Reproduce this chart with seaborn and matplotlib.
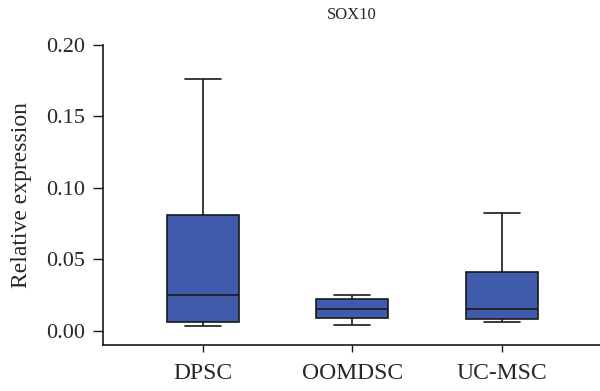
import numpy as np
import pandas as pd
import matplotlib
matplotlib.use('Agg')
import matplotlib.pyplot as plt
import seaborn as sns

# five-number summaries (min, q1, median, q3, max)
groups = ['DPSC', 'OOMDSC', 'UC-MSC']
dpsc = [0.003, 0.006, 0.025, 0.081, 0.176]
oomdsc = [0.004, 0.009, 0.015, 0.022, 0.025]
ucmsc = [0.006, 0.008, 0.015, 0.041, 0.082]
yticks = [0.00, 0.05, 0.10, 0.15, 0.20]

df = pd.DataFrame({
    'group': np.repeat(groups, 5),
    'value': dpsc + oomdsc + ucmsc,
})

sns.set_style('ticks')
plt.rcParams['font.family'] = ['Liberation Serif', 'DejaVu Serif']

fig = plt.figure(figsize=(6, 3.91), dpi=100)
ax = fig.add_axes([0.172, 0.118, 0.828, 0.767])

sns.boxplot(data=df, x='group', y='value', order=groups, whis=(0, 100),
            width=0.48, color='#3f5ba9', saturation=1, linecolor='#1a1a1a',
            linewidth=1.2, showfliers=False, ax=ax)

ax.set_xlim(-0.667, 2.657)
ax.set_ylim(-0.01, 0.20)
ax.set_yticks(yticks)
ax.set_yticklabels(['{:.2f}'.format(t) for t in yticks])
ax.set_xlabel('')
ax.set_ylabel('Relative expression', fontsize=17, labelpad=10)
ax.set_title('SOX10', fontsize=12, pad=19)
ax.tick_params(axis='y', labelsize=16, length=7, width=1, color='#1a1a1a', pad=6)
ax.tick_params(axis='x', labelsize=17, length=5, width=1, color='#1a1a1a', pad=8)
sns.despine(ax=ax)
ax.spines['left'].set_bounds(-0.01, 0.20)
for s in ['left', 'bottom']:
    ax.spines[s].set_linewidth(1.2)
    ax.spines[s].set_color('#1a1a1a')

plt.savefig('out.png', dpi=100)
